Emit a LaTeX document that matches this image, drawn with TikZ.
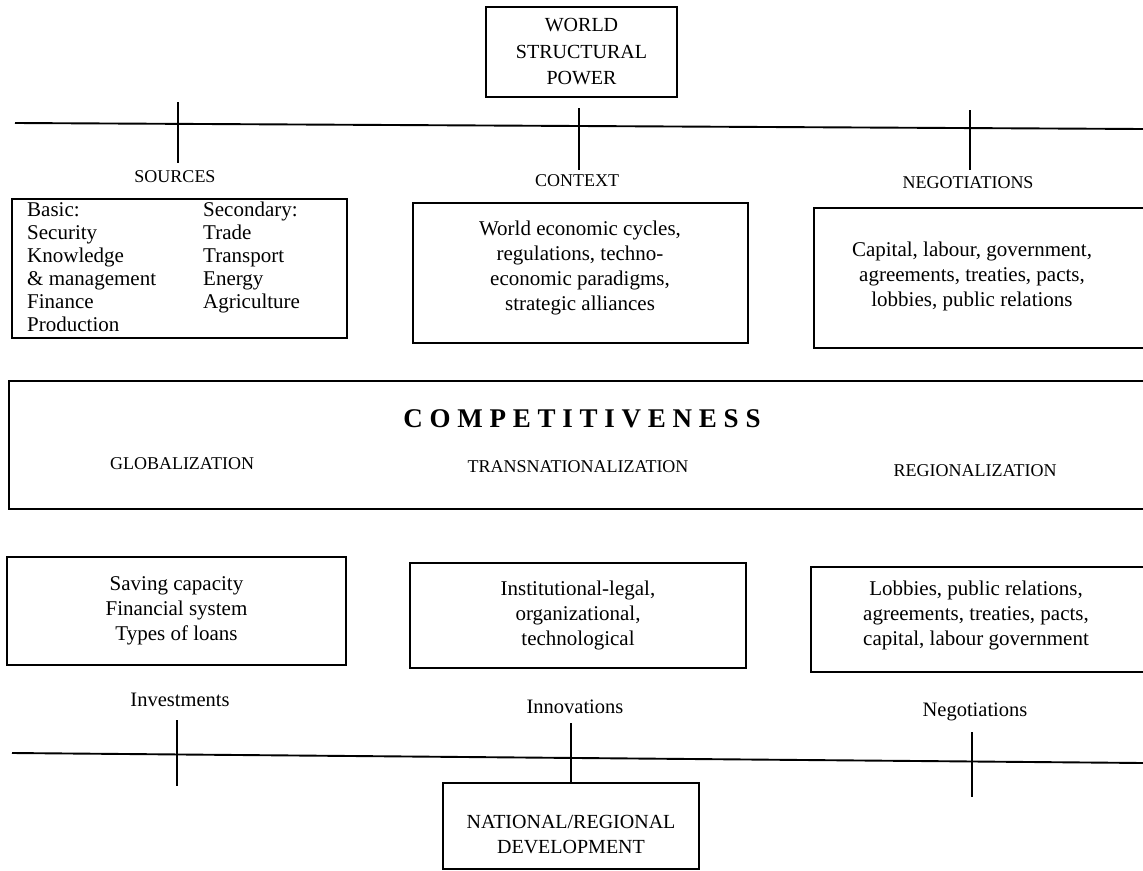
\documentclass[tikz,border=0pt]{standalone}
\usepackage{fontspec}
\setmainfont{Liberation Serif}
\begin{document}
\begin{tikzpicture}[x=1pt,y=-1pt,
  frame/.style={draw,line width=2.4pt,inner sep=0pt,align=center},
  txt/.style={inner sep=0pt,align=center,font=\fontsize{21}{25}\selectfont},
  colt/.style={inner sep=0pt,align=left,anchor=north west,font=\fontsize{21}{23}\selectfont},
  uplabel/.style={inner sep=0pt,font=\fontsize{18}{22}\selectfont},
  lbl/.style={inner sep=0pt,font=\fontsize{20.5}{24}\selectfont},
  axis/.style={line width=1.9pt},
  tickline/.style={line width=2.3pt}]
\clip (0,0) rectangle (1143,870);
\path[use as bounding box] (0,0) rectangle (1143,870);

% top
\node[frame,minimum width=191pt,minimum height=90pt,font=\fontsize{20}{26.5}\selectfont] (wsp) at (581.5,52) {WORLD\\STRUCTURAL\\POWER};
\coordinate (tl) at (15,123);
\coordinate (tr) at (1143,129);
\draw[axis] (tl) -- (tr);
\coordinate (s1) at (178,102); \coordinate (s2) at (178,163);
\coordinate (c1) at (579,108); \coordinate (c2) at (579,170);
\coordinate (n1) at (970,110); \coordinate (n2) at (970,170);
\draw[tickline] (s1) -- (s2);
\draw[tickline] (c1) -- (c2);
\draw[tickline] (n1) -- (n2);
\node[uplabel] (srcl) at (175,177) {SOURCES};
\node[uplabel] (ctxl) at (577,181) {CONTEXT};
\node[uplabel] (negl) at (968,183) {NEGOTIATIONS};

% upper boxes
\node[frame,minimum width=335pt,minimum height=139pt] (srcbox) at (179.5,268.5) {};
\node[colt] (basic) at (27,202) {Basic:\\Security\\Knowledge\\\& management\\Finance\\Production};
\node[colt] (second) at (203,202) {Secondary:\\Trade\\Transport\\Energy\\Agriculture};

\node[frame,minimum width=335pt,minimum height=140pt] (ctxbox) at (580.5,273) {};
\node[txt] (ctxtxt) at (580,268) {World economic cycles,\\regulations, techno-\\economic paradigms,\\strategic alliances};

\node[frame,anchor=north west,minimum width=345pt,minimum height=140pt] (negbox) at (813,207) {};
\node[txt] (negtxt) at (972,276) {Capital, labour, government,\\agreements, treaties, pacts,\\lobbies, public relations};

% competitiveness
\node[frame,anchor=north west,minimum width=1150pt,minimum height=128pt] (comp) at (8,380) {};
\node[inner sep=0pt,font=\fontsize{27}{30}\selectfont\bfseries\addfontfeature{LetterSpace=25}] (comptitle) at (582,419) {COMPETITIVENESS};
\node[uplabel] (glob) at (182,464) {GLOBALIZATION};
\node[uplabel] (trans) at (578,467) {TRANSNATIONALIZATION};
\node[uplabel] (regio) at (975,471) {REGIONALIZATION};

% lower boxes
\node[frame,txt,minimum width=339pt,minimum height=108pt] (save) at (176.5,611) {Saving capacity\\Financial system\\Types of loans};
\node[frame,txt,minimum width=336pt,minimum height=105pt] (inst) at (578,615.5) {Institutional-legal,\\organizational,\\technological};
\node[frame,anchor=north west,minimum width=345pt,minimum height=105pt] (lobbox) at (810,566) {};
\node[txt] (lobtxt) at (976,615) {Lobbies, public relations,\\agreements, treaties, pacts,\\capital, labour government};

\node[lbl] (inv) at (180,700) {Investments};
\node[lbl] (inn) at (575,707) {Innovations};
\node[lbl] (neg) at (975,712) {Negotiations};

% bottom
\coordinate (bl) at (12,753);
\coordinate (br) at (1143,763);
\draw[axis] (bl) -- (br);
\node[frame,minimum width=256pt,minimum height=86pt] (nat) at (571,826) {};
\node[inner sep=0pt,align=center,font=\fontsize{20}{25}\selectfont] (nattxt) at (571,835) {NATIONAL/REGIONAL\\DEVELOPMENT};
\coordinate (v1) at (177,720); \coordinate (v2) at (177,786);
\coordinate (w1) at (571,723);
\coordinate (g1) at (972,732); \coordinate (g2) at (972,797);
\draw[tickline] (v1) -- (v2);
\draw[tickline] (w1) -- (nat.north);
\draw[tickline] (g1) -- (g2);
\end{tikzpicture}
\end{document}
